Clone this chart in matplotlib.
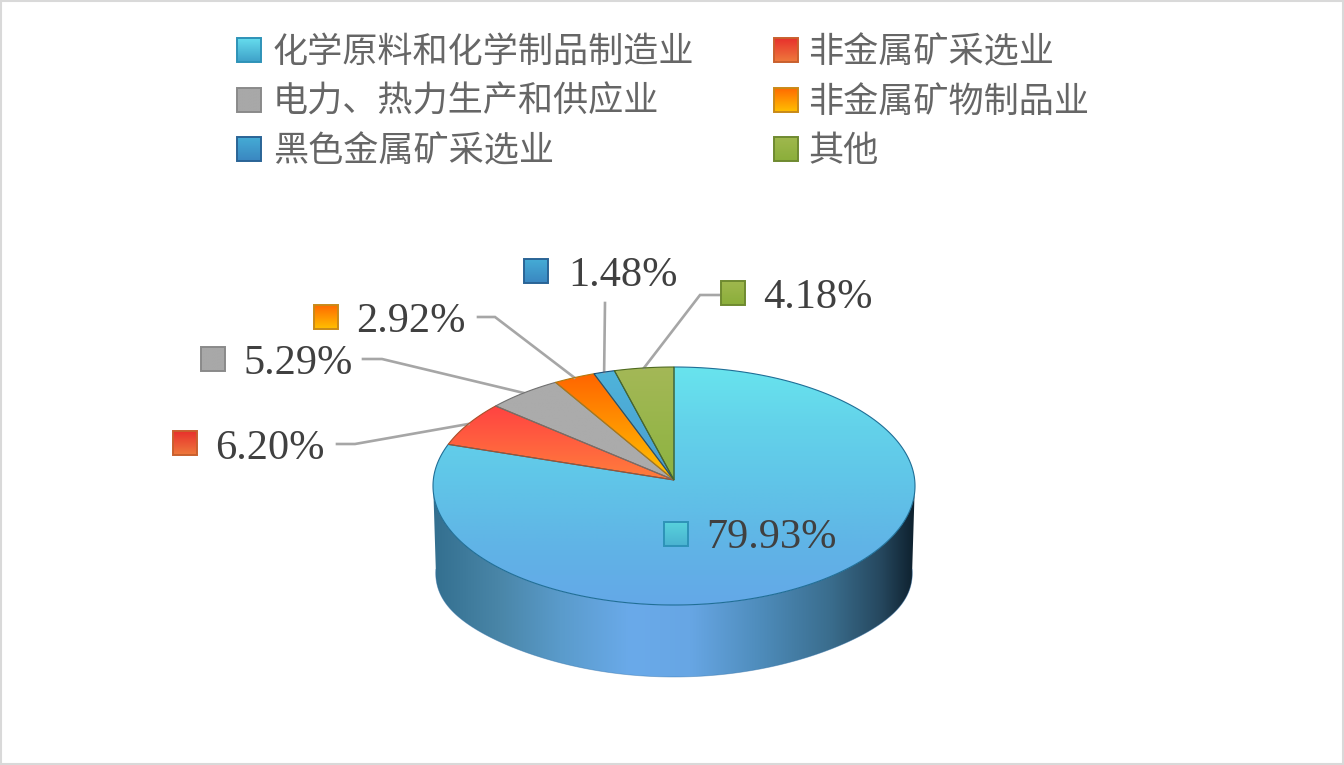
import matplotlib
matplotlib.use("Agg")
import matplotlib.pyplot as plt
import matplotlib.colors as mcolors
from matplotlib.patches import Polygon, Rectangle
import numpy as np

plt.rcParams['font.family'] = ['Noto Sans CJK SC', 'DejaVu Sans']

categories = ['化学原料和化学制品制造业', '非金属矿采选业', '电力、热力生产和供应业',
              '非金属矿物制品业', '黑色金属矿采选业', '其他']
shares = [79.93, 6.20, 5.29, 2.92, 1.48, 4.18]

slice_colors = [['#68E4EE', '#63D2EA', '#60C4E8', '#60B4E6', '#64A8E8'],
                ['#FF4242', '#FF7E3C'], ['#ABABAB', '#ABABAB'], ['#FF6400', '#FFC400'],
                ['#4FB4DA', '#4A9CD0'], ['#A4B857', '#8DB340']]
edge_colors = ['#1F6E96', '#A8502A', '#707070', '#B07A10', '#1D4F7A', '#4F6A20']
swatch_edges = ['#2E93B8', '#C9602E', '#8A8A8A', '#C98A18', '#2A6496', '#6F8A30']
swatch_top = ['#66DDEE', '#E8302C', '#A8A8A8', '#FF6A00', '#45ACD6', '#A0B84E']
swatch_bottom = ['#3EA0C8', '#EE7A3C', '#A8A8A8', '#FFC000', '#3A86C0', '#8AAE3A']
# the 79.93% data label swatch sits on the slice so it is paler than the legend one
big_label_swatch = ['#58D2DC', '#4AB2D0']

side_x = [433, 500, 560, 630, 690, 760, 830, 880, 915]
side_colors = ['#336F8F', '#4A86A8', '#5A9BCB', '#6AAAEA', '#67A6E4', '#4E8CBB',
               '#3A6D8D', '#26485F', '#0D1F2C']

# label layout: swatch left, swatch top, text left, text y
label_pos = [(664, 522, 706, 538), (173, 431, 215, 449), (201, 347, 243, 364),
             (314, 305, 356, 322), (524, 259, 568, 276), (721, 281, 763, 298)]
# leader start points, elbow points (None for the big slice)
leader_start = [None, (337, 444), (363, 359), (478, 317), (605, 303), (720, 295)]
leader_elbow = [None, (355, 444), (382, 359), (495, 317), None, (700, 295)]
legend_pos = [(237, 50), (774, 50), (237, 100), (774, 100), (237, 149), (774, 149)]
legend_text_x = {237: 273, 774: 808}

CX, CY = 674, 480


def project(theta, a=240.7, b=118.7, k=0.0504, dy=0.0):
    # theta clockwise from 12 o'clock, small perspective so the apex sits above ellipse centre
    u, v = np.sin(theta), np.cos(theta)
    w = 1 + k * v
    return CX + a * u / w, CY - b * v / w + dy


def gradient(ax, extent, colors, clip=None):
    rgb = np.array([mcolors.to_rgb(c) for c in colors])
    t = np.linspace(0, 1, 256)
    pos = np.linspace(0, 1, len(colors))
    img = np.stack([np.interp(t, pos, rgb[:, i]) for i in range(3)], axis=-1)[:, None, :]
    im = ax.imshow(img, extent=extent, aspect='auto', interpolation='bilinear', zorder=2)
    if clip is not None:
        im.set_clip_path(clip)
    return im


fig = plt.figure(figsize=(13.44, 7.65), dpi=100)
ax = fig.add_axes([0, 0, 1, 1])
ax.set_axis_off()

# side wall, the lower corners are squarer than a plain ellipse
th = np.linspace(np.pi / 2 + 0.02, 3 * np.pi / 2 - 0.02, 300)
tx, ty = project(th)
corner = 15 * np.abs(np.sin(th[::-1])) ** 5
bx, by = project(th[::-1], a=238, dy=72 + corner)
side = Polygon(np.column_stack([np.r_[tx, bx], np.r_[ty, by]]), closed=True,
               facecolor='none', edgecolor='none')
ax.add_patch(side)
xs = np.arange(433, 916)
rgb = np.array([mcolors.to_rgb(c) for c in side_colors])
side_img = np.stack([np.interp(xs, side_x, rgb[:, i]) for i in range(3)], axis=-1)[None, :, :]
im = ax.imshow(side_img, extent=(433, 916, 680, 470), aspect='auto', interpolation='bilinear', zorder=1)
im.set_clip_path(side)
ax.plot(bx, by, color='#2F6FA8', lw=0.6, alpha=0.45, zorder=1.5)

# top slices, angle taken from the shares
edges = np.r_[0, np.cumsum(shares)] / sum(shares) * 2 * np.pi
mids = (edges[:-1] + edges[1:]) / 2
for i in range(len(shares)):
    th = np.linspace(edges[i], edges[i + 1], 300)
    rx, ry = project(th)
    pts = np.column_stack([np.r_[CX, rx], np.r_[CY, ry]])
    poly = Polygon(pts, closed=True, facecolor='none', edgecolor='none')
    ax.add_patch(poly)
    y0, y1 = pts[:, 1].min(), pts[:, 1].max()
    gradient(ax, (pts[:, 0].min(), pts[:, 0].max(), y1, y0), slice_colors[i], clip=poly)
    ax.add_patch(Polygon(pts, closed=True, facecolor='none', edgecolor=edge_colors[i], lw=0.8, zorder=3))

# leader lines
for i in range(len(shares)):
    if leader_start[i] is None:
        continue
    ex, ey = project(mids[i])
    path = [leader_start[i]] + ([leader_elbow[i]] if leader_elbow[i] else []) + [(ex, ey)]
    ax.plot([p[0] for p in path], [p[1] for p in path], color='#A6A6A6', lw=1.9, zorder=2.5,
            solid_joinstyle='miter')


def swatch(x, y, colors, edge, size=24):
    gradient(ax, (x, x + size, y + size, y), colors).set_zorder(4)
    ax.add_patch(Rectangle((x, y), size, size, facecolor='none', edgecolor=edge, lw=1.4, zorder=5))


# data labels
for i, val in enumerate(shares):
    sx, sy, tx_, ty_ = label_pos[i]
    cols = big_label_swatch if i == 0 else [swatch_top[i], swatch_bottom[i]]
    swatch(sx, sy, cols, swatch_edges[i])
    ax.text(tx_, ty_, f'{val:.2f}%', family='Liberation Serif', fontsize=30.5, color='#404040',
            va='center', ha='left', zorder=6)

# legend
for i, name in enumerate(categories):
    lx, ly = legend_pos[i]
    swatch(lx, ly - 12, [swatch_top[i], swatch_bottom[i]], swatch_edges[i])
    ax.text(legend_text_x[lx], ly + 2, name, fontsize=25.3, color='#666666', va='center', ha='left', zorder=6)

# frame
ax.add_patch(Rectangle((1, 1), 1342, 763, facecolor='none', edgecolor='#D9D9D9', lw=1.5, zorder=7))

ax.set_xlim(0, 1344)
ax.set_ylim(765, 0)
fig.savefig('out.png', dpi=100, facecolor='white')
